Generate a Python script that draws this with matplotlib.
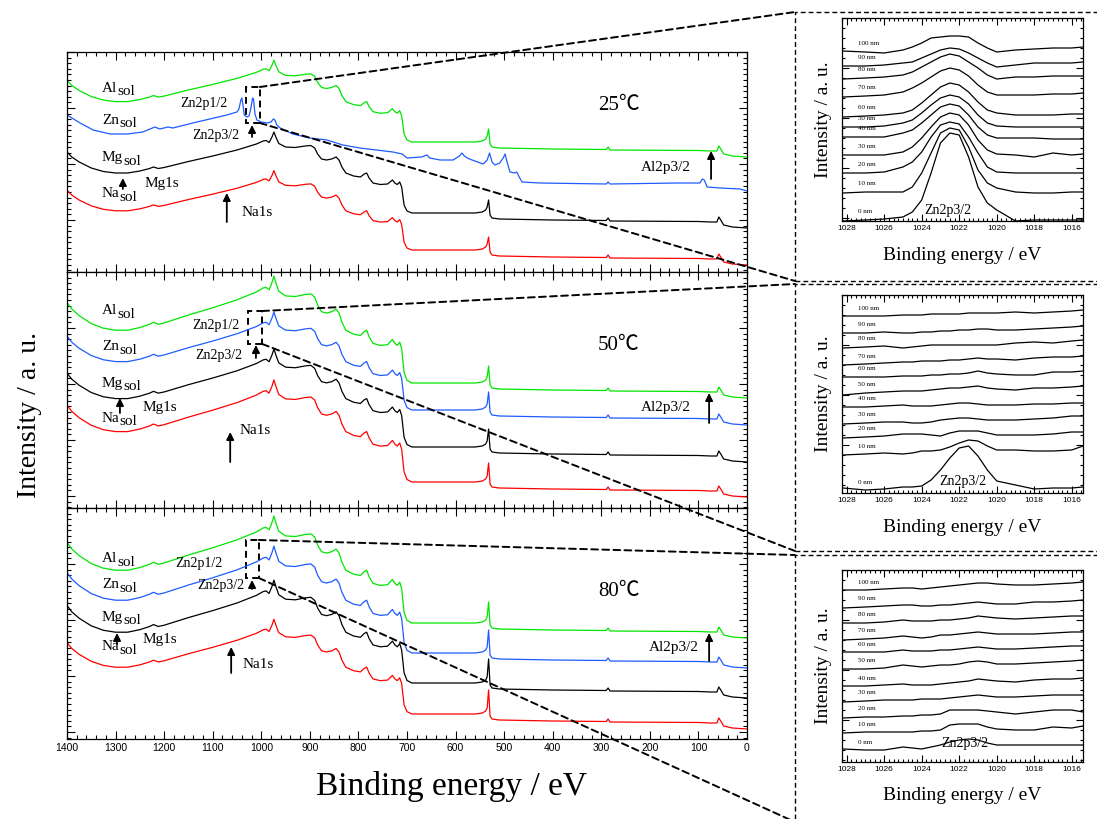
import numpy as np
import matplotlib
matplotlib.use('Agg')
import matplotlib.pyplot as plt
from matplotlib.patches import Rectangle, ConnectionPatch

plt.rcParams['font.family'] = ['Liberation Serif', 'Noto Sans CJK JP']

# ---------------- survey spectra (binding energy / eV, intensity / a.u.) ----------------
TEMPS = ['25℃', '50℃', '80℃']
SERIES = ['Al', 'Zn', 'Mg', 'Na']
COLORS = ['#00e600', '#1f5cff', 'black', '#ff0000']

# shape above 640 eV (O KLL, Fe LMM, Fe2p), relative to the plateau below Fe2p
HI_E = [1400, 1390, 1375, 1350, 1325, 1300, 1275, 1250, 1230, 1222,
        1212, 1200, 1150, 1100, 1050, 1010, 996, 990, 984, 978,
        974, 970, 964, 950, 930, 910, 898, 890, 884, 876,
        866, 855, 846, 840, 834, 826, 810, 796, 788, 783,
        778, 770, 755, 740, 730, 725, 720, 715, 711, 706,
        700, 690, 640]
HI_T = [6.1, 5.6, 5.1, 4.5, 4.15, 4.0, 4.0, 4.2, 4.45, 4.6,
        4.45, 4.55, 5.15, 5.7, 6.3, 6.9, 7.2, 7.25, 7.05, 7.6,
        8.1, 7.6, 6.95, 6.6, 6.55, 6.7, 6.75, 6.5, 5.9, 5.4,
        5.3, 5.4, 5.6, 5.3, 4.6, 4.0, 3.7, 3.6, 3.9, 4.0,
        3.5, 3.0, 2.85, 2.9, 3.3, 3.0, 2.85, 3.1, 2.6, 0.8,
        0.2, 0.0, 0.0]
# shape below 640 eV (O1s point at 532 eV is set per trace)
LO_E = [640, 560, 545, 538, 535, 532, 529, 525, 510, 400, 290, 286, 282,
        100, 75, 62, 58, 54, 48, 30, 0]
LO_T = [0.0, 0.0, 0.1, 0.3, 0.6, 0.0, -0.2, -0.5, -0.6, -0.7, -0.75, -0.5, -0.8,
        -0.85, -0.9, -0.9, -0.4, -0.7, -1.2, -1.4, -1.5]

# per trace (Al, Zn, Mg, Na): plateau level, scale of the high-energy part, O1s height
LEVEL = {'25℃': [13.0, None, 5.9, 2.2], '50℃': [12.5, 9.8, 6.1, 2.6], '80℃': [11.6, 8.6, 5.6, 2.5]}
SCALE = {'25℃': [1.01, None, 1.0, 0.98], '50℃': [1.32, 1.21, 1.21, 1.26], '80℃': [1.32, 1.32, 1.27, 1.17]}
O1S = {'25℃': [1.3, None, 1.3, 1.3], '50℃': [1.7, 1.8, 1.8, 1.9], '80℃': [2.1, 2.3, 2.4, 2.4]}

# Zn_sol at 25 degC read on its own (Zn2p and Zn LMM peaks)
ZN25_E = [1400, 1373, 1346, 1311, 1276, 1244, 1219, 1209, 1192, 1182,
          1141, 1071, 1050, 1046, 1042, 1040, 1038, 1035, 1030, 1025,
          1021, 1018, 1016, 1013, 1009, 1000, 988, 980, 975, 972,
          968, 961, 935, 900, 865, 832, 797, 729, 710, 700,
          670, 659, 653, 632, 605, 592, 587, 582, 576, 566,
          543, 535, 530, 525, 519, 509, 502, 498, 494, 488,
          478, 474, 469, 463, 426, 290, 286, 282, 142, 97,
          92, 88, 82, 55, 14, 0]
ZN25_I = [15.7, 14.9, 14.2, 13.8, 13.8, 14.0, 14.5, 14.3, 14.5, 14.4,
          14.9, 15.7, 16.0, 16.3, 17.2, 17.4, 16.8, 15.7, 15.5, 15.6,
          16.5, 17.4, 17.3, 15.8, 15.2, 15.0, 14.9, 15.0, 15.3, 15.2,
          14.7, 14.4, 13.8, 13.4, 13.2, 12.7, 12.4, 12.0, 11.8, 11.4,
          11.5, 11.7, 11.4, 11.2, 11.2, 11.6, 11.9, 11.6, 11.4, 11.2,
          10.8, 11.2, 11.9, 11.0, 10.7, 10.9, 11.4, 11.8, 11.0, 10.0,
          9.9, 10.0, 9.5, 9.0, 8.9, 8.8, 9.0, 8.8, 8.9, 8.9,
          9.3, 9.2, 8.5, 8.4, 8.3, 8.1]

# ---------------- Zn2p3/2 depth profiles ----------------
INSET_E = [1028.2, 1027, 1026, 1025, 1024.5, 1024, 1023.5, 1023, 1022.5, 1022,
           1021.5, 1021, 1020.5, 1020, 1019, 1018, 1017, 1016, 1015.4]
DEPTHS = ['0 nm', '10 nm', '20 nm', '30 nm', '40 nm', '50 nm',
          '60 nm', '70 nm', '80 nm', '90 nm', '100 nm']
PROFILE_25 = [
    [0.0, 0.1, 0.2, 0.4, 0.9, 2.1, 4.8, 7.8, 8.8, 8.6, 6.4, 3.4, 1.8, 1.1, 0.0, 0.1, 0.1, 0.1, 0.1],
    [2.8, 2.9, 2.9, 2.9, 3.4, 4.8, 6.8, 8.8, 9.3, 9.1, 7.4, 5.1, 3.8, 3.3, 2.9, 2.8, 2.8, 2.9, 2.9],
    [4.8, 4.8, 4.9, 5.4, 5.9, 6.9, 8.4, 9.6, 9.9, 9.7, 8.4, 6.8, 5.4, 4.9, 4.8, 4.8, 4.8, 4.8, 4.8],
    [6.6, 6.6, 6.6, 6.9, 7.4, 8.3, 9.4, 10.4, 10.8, 10.6, 9.6, 8.1, 7.1, 6.7, 6.6, 6.4, 6.8, 6.6, 6.7],
    [8.4, 8.4, 8.4, 8.8, 9.1, 9.8, 10.6, 11.4, 11.7, 11.5, 10.6, 9.4, 8.6, 8.3, 8.3, 8.3, 8.2, 8.2, 8.2],
    [9.4, 9.4, 9.5, 9.8, 10.1, 10.8, 11.6, 12.3, 12.6, 12.4, 11.7, 10.6, 9.8, 9.5, 9.4, 9.4, 9.4, 9.4, 9.4],
    [10.4, 10.5, 10.6, 10.8, 11.1, 11.8, 12.6, 13.4, 13.8, 13.6, 12.9, 11.9, 11.1, 10.8, 10.6, 10.6, 10.6, 10.7, 10.7],
    [12.4, 12.5, 12.6, 12.9, 13.3, 13.8, 14.4, 15.0, 15.3, 15.1, 14.5, 13.6, 12.9, 12.6, 12.6, 12.6, 12.7, 12.7, 12.8],
    [14.2, 14.3, 14.4, 14.6, 14.9, 15.4, 15.9, 16.4, 16.7, 16.5, 15.9, 15.3, 14.6, 14.2, 14.4, 14.4, 14.5, 14.5, 14.5],
    [15.5, 15.5, 15.6, 15.8, 15.9, 16.3, 16.7, 17.1, 17.3, 17.2, 16.8, 16.3, 15.8, 15.4, 15.6, 15.8, 15.8, 15.8, 15.9],
    [17.0, 16.9, 16.8, 17.1, 17.4, 17.8, 18.3, 18.4, 18.5, 18.5, 18.4, 17.8, 17.3, 16.9, 17.1, 17.2, 17.3, 17.3, 17.4],
]
PROFILE_50 = [
    [0.5, 0.3, 0.4, 0.6, 0.6, 0.7, 1.3, 2.3, 3.5, 4.5, 4.7, 3.7, 2.3, 1.2, 0.8, 0.4, 0.5, 0.5, 0.6],
    [3.8, 3.9, 4.0, 3.9, 4.0, 4.2, 4.2, 4.3, 4.6, 5.0, 5.3, 5.2, 4.7, 4.3, 4.3, 4.2, 4.2, 4.3, 4.7],
    [5.5, 5.6, 5.7, 5.9, 5.9, 5.9, 5.8, 5.7, 6.0, 6.2, 6.2, 6.2, 6.0, 5.8, 5.8, 5.8, 5.9, 6.1, 6.1],
    [6.9, 7.0, 7.1, 7.1, 7.0, 7.0, 7.1, 7.3, 7.4, 7.5, 7.5, 7.4, 7.3, 7.3, 7.3, 7.4, 7.5, 7.7, 7.7],
    [8.6, 8.6, 8.7, 8.8, 8.7, 8.7, 8.7, 8.8, 8.9, 9.0, 9.0, 8.9, 8.8, 8.8, 8.8, 8.9, 8.9, 9.0, 9.0],
    [9.8, 10.0, 10.1, 10.2, 10.2, 10.2, 10.3, 10.4, 10.5, 10.5, 10.6, 10.7, 10.5, 10.4, 10.3, 10.5, 10.5, 10.6, 10.7],
    [11.6, 11.6, 11.6, 11.7, 11.7, 11.7, 11.8, 11.8, 11.9, 11.9, 12.0, 12.2, 12.0, 11.9, 11.8, 11.8, 12.1, 12.1, 12.2],
    [12.8, 12.9, 13.0, 13.1, 13.1, 13.2, 13.2, 13.2, 13.3, 13.3, 13.4, 13.5, 13.4, 13.4, 13.3, 13.5, 13.6, 13.6, 13.7],
    [14.5, 14.6, 14.7, 14.5, 14.6, 14.7, 14.8, 14.8, 14.8, 14.8, 14.8, 14.8, 14.8, 14.8, 15.0, 15.1, 15.0, 15.2, 15.3],
    [16.0, 16.0, 16.1, 16.0, 16.0, 16.1, 16.1, 16.2, 16.2, 16.3, 16.3, 16.4, 16.4, 16.3, 16.3, 16.4, 16.5, 16.6, 16.7],
    [17.7, 17.7, 17.7, 17.8, 17.8, 17.8, 17.9, 17.9, 17.9, 17.9, 18.0, 18.0, 18.0, 18.0, 18.1, 18.0, 18.1, 18.2, 18.3],
]
PROFILE_80 = [
    [1.3, 1.2, 1.2, 1.5, 1.4, 1.3, 1.5, 1.7, 2.0, 2.2, 2.3, 2.2, 1.9, 1.7, 1.7, 1.7, 1.7, 1.7, 1.7],
    [2.9, 3.0, 3.0, 3.0, 3.0, 3.1, 3.1, 3.2, 3.7, 3.8, 3.8, 3.8, 3.5, 3.3, 3.2, 3.2, 3.5, 3.4, 3.6],
    [4.4, 4.5, 4.5, 4.6, 4.6, 4.7, 4.7, 4.8, 5.2, 5.2, 5.2, 5.2, 5.1, 5.0, 4.8, 5.0, 5.2, 5.2, 5.0],
    [6.0, 6.1, 6.2, 6.2, 6.2, 6.3, 6.3, 6.3, 6.4, 6.5, 6.6, 6.7, 6.6, 6.5, 6.5, 6.6, 6.7, 6.7, 6.7],
    [7.6, 7.6, 7.7, 7.8, 7.7, 7.7, 7.7, 7.8, 7.9, 8.0, 8.1, 8.3, 8.2, 8.1, 8.0, 8.2, 8.3, 8.3, 8.4],
    [9.3, 9.3, 9.4, 9.7, 9.6, 9.5, 9.6, 9.7, 9.7, 9.8, 10.0, 10.1, 10.0, 9.8, 9.8, 9.9, 10.0, 10.1, 10.2],
    [11.0, 11.0, 11.0, 11.2, 11.1, 11.1, 11.1, 11.2, 11.2, 11.3, 11.4, 11.5, 11.4, 11.3, 11.3, 11.4, 11.5, 11.6, 11.6],
    [12.2, 12.3, 12.4, 12.6, 12.5, 12.4, 12.5, 12.7, 12.7, 12.8, 12.9, 13.0, 12.9, 12.8, 12.8, 12.8, 12.9, 13.0, 13.0],
    [13.9, 13.9, 14.0, 14.2, 14.1, 14.1, 14.1, 14.2, 14.2, 14.3, 14.4, 14.6, 14.5, 14.4, 14.3, 14.4, 14.5, 14.6, 14.6],
    [15.4, 15.5, 15.6, 15.7, 15.7, 15.6, 15.6, 15.7, 15.7, 15.8, 15.9, 16.0, 15.9, 15.8, 15.8, 16.0, 16.0, 16.1, 16.2],
    [17.2, 17.2, 17.3, 17.4, 17.4, 17.3, 17.4, 17.5, 17.6, 17.7, 17.8, 17.9, 17.9, 17.8, 17.7, 17.7, 17.8, 17.9, 18.0],
]
PROFILES = [PROFILE_25, PROFILE_50, PROFILE_80]

# ---------------- layout (pixels of the 1097 x 819 picture) ----------------
W, H = 1097, 819
fig = plt.figure(figsize=(W / 100, H / 100), dpi=100)


def frect(l, t, r, b):
    return [l / W, 1 - b / H, (r - l) / W, (b - t) / H]


def fpt(x, y):
    return (x / W, 1 - y / H)


MAIN_L, MAIN_R = 67, 747
MAIN_T = [52, 272, 508]
MAIN_B = [272, 508, 739]
INS_L, INS_R = 842, 1083
INS_T = [18, 295, 570]
INS_B = [221, 493, 762]
BOX_L = 795
BOX_T = [12, 284, 555]
BOX_B = [281, 551, 822]

# label placement per panel
SOL_Y = [[18.4, 15.2, 11.4, 7.8], [19.7, 16.1, 12.5, 9.0], [18.0, 15.4, 12.2, 9.2]]
ANN = [
    dict(p12=(1069, 16.8), p32=(1141, 13.6), zn_arr=(1019, 13.5, 14.7),
         mg=(1241, 8.8), mg_arr=(1285, 8.3, 9.4), na=(1040, 5.9), na_arr=(1071, 5.0, 7.9),
         al=(167, 10.5), al_arr=(74, 9.3, 12.1), temp=(264, 16.7), box=(1031, 1003, 14.9, 18.5)),
    dict(p12=(1044, 18.3), p32=(1136, 15.2), zn_arr=(1011, 15.0, 16.3),
         mg=(1244, 10.0), mg_arr=(1291, 9.5, 11.0), na=(1044, 7.8), na_arr=(1064, 4.6, 7.6),
         al=(167, 10.1), al_arr=(78, 8.5, 11.5), temp=(264, 16.3), box=(1027, 998, 16.4, 19.7)),
    dict(p12=(1079, 17.6), p32=(1132, 15.3), zn_arr=(1019, 15.0, 15.9),
         mg=(1244, 10.0), mg_arr=(1297, 9.5, 10.6), na=(1038, 7.5), na_arr=(1062, 6.6, 9.2),
         al=(150, 9.1), al_arr=(78, 7.8, 10.6), temp=(264, 14.7), box=(1031, 1005, 16.1, 19.9)),
]
ZN_LABEL = [(1022.6, 1.0), (1021.8, 1.2), (1021.7, 1.8)]


def style_axes(ax, labelsize, major_len, minor_len):
    ax.tick_params(which='both', direction='in', top=True, right=True, width=0.8,
                   labelsize=labelsize, labelfontfamily='Liberation Sans', pad=3)
    ax.tick_params(which='major', length=major_len)
    ax.tick_params(which='minor', length=minor_len)
    for sp in ax.spines.values():
        sp.set_linewidth(0.9)


arrow_kw = dict(arrowstyle='-|>', color='black', lw=1.3, mutation_scale=11, shrinkA=0, shrinkB=0)
dash = (0, (3.5, 2.2))

for i, temp in enumerate(TEMPS):
    ax = fig.add_axes(frect(MAIN_L, MAIN_T[i], MAIN_R, MAIN_B[i]))
    top = (MAIN_B[i] - MAIN_T[i]) / 10
    ax.set_xlim(1400, 0)
    ax.set_ylim(0, top)
    ax.set_xticks(np.arange(0, 1401, 100))
    ax.set_xticks(np.arange(0, 1401, 20), minor=True)
    ax.set_yticks(np.arange(top, 0, -5.6))
    ax.set_yticks(np.arange(top, 0, -0.56), minor=True)
    ax.set_yticklabels([])
    style_axes(ax, 7.5, 6, 3)
    if i < 2:
        ax.set_xticklabels([])

    for k, name in enumerate(SERIES):
        if LEVEL[temp][k] is None:
            e, y = ZN25_E, ZN25_I
        else:
            lev, sc = LEVEL[temp][k], SCALE[temp][k]
            lo = [lev + t for t in LO_T]
            lo[LO_E.index(532)] = lev + O1S[temp][k]
            e = HI_E + LO_E
            y = [lev + sc * t for t in HI_T] + lo
        ax.plot(e, y, color=COLORS[k], lw=0.9)

        t = ax.text(1328, SOL_Y[i][k], name, fontsize=11, ha='left', va='center')
        ax.annotate('sol', xy=(1, 0.22), xycoords=t, xytext=(0, 0), textcoords='offset points',
                    fontsize=11, ha='left', va='center')

    a = ANN[i]
    ax.text(*a['p12'], 'Zn2p1/2', fontsize=10, ha='right', va='center')
    ax.text(*a['p32'], 'Zn2p3/2', fontsize=10, ha='left', va='center')
    ax.annotate('', xy=(a['zn_arr'][0], a['zn_arr'][2]), xytext=(a['zn_arr'][0], a['zn_arr'][1]), arrowprops=arrow_kw)
    ax.text(*a['mg'], 'Mg1s', fontsize=11, ha='left', va='center')
    ax.annotate('', xy=(a['mg_arr'][0], a['mg_arr'][2]), xytext=(a['mg_arr'][0], a['mg_arr'][1]), arrowprops=arrow_kw)
    ax.text(*a['na'], 'Na1s', fontsize=11, ha='left', va='center')
    ax.annotate('', xy=(a['na_arr'][0], a['na_arr'][2]), xytext=(a['na_arr'][0], a['na_arr'][1]), arrowprops=arrow_kw)
    ax.text(*a['al'], 'Al2p3/2', fontsize=11, ha='center', va='center')
    ax.annotate('', xy=(a['al_arr'][0], a['al_arr'][2]), xytext=(a['al_arr'][0], a['al_arr'][1]), arrowprops=arrow_kw)
    ax.text(*a['temp'], temp, fontsize=15, ha='center', va='center')

    e1, e2, v1, v2 = a['box']
    ax.add_patch(Rectangle((e2, v1), e1 - e2, v2 - v1, fill=False, ls=dash, lw=1.4, color='black'))

    # dashed box around the matching inset, and the two zoom lines
    fig.add_artist(Rectangle(fpt(BOX_L, BOX_B[i]), (1130 - BOX_L) / W, (BOX_B[i] - BOX_T[i]) / H,
                             transform=fig.transFigure, fill=False, ls=dash, lw=1.0, color='black'))
    for v, by in ((v2, BOX_T[i]), (v1, BOX_B[i])):
        con = ConnectionPatch(xyA=(e2, v), coordsA='data', axesA=ax,
                              xyB=fpt(BOX_L, by), coordsB='figure fraction',
                              ls=dash, lw=1.4, color='black')
        fig.add_artist(con)

    # inset with the Zn2p3/2 depth profile
    ins = fig.add_axes(frect(INS_L, INS_T[i], INS_R, INS_B[i]))
    itop = (INS_B[i] - INS_T[i]) / 10
    ins.set_xlim(1028.2, 1015.4)
    ins.set_ylim(0, itop)
    ins.set_xticks(np.arange(1016, 1029, 2))
    ins.set_xticks(np.arange(1015.5, 1028.3, 0.25), minor=True)
    ins.set_yticks(np.arange(itop, 0, -5.0))
    ins.set_yticks(np.arange(itop, 0, -1.0), minor=True)
    ins.set_yticklabels([])
    style_axes(ins, 6, 5, 2.5)
    for d, prof in zip(DEPTHS, PROFILES[i]):
        ins.plot(INSET_E, prof, color='black', lw=0.9)
        ins.text(1027.4, prof[1] + 0.8, d, fontsize=5, ha='left', va='center')
    ins.text(*ZN_LABEL[i], 'Zn2p3/2', fontsize=10, ha='center', va='center')
    fig.text(*fpt((INS_L + INS_R) / 2, INS_B[i] + 34), 'Binding energy / eV',
             fontsize=14, ha='center', va='center')
    fig.text(*fpt(823, (INS_T[i] + INS_B[i]) / 2), 'Intensity / a. u.',
             fontsize=14, rotation=90, ha='center', va='center')

fig.text(*fpt(30, 415), 'Intensity / a. u.', fontsize=20, rotation=90, ha='center', va='center')
fig.text(*fpt(452, 786), 'Binding energy / eV', fontsize=24, ha='center', va='center')

fig.savefig('out.png', dpi=100)
